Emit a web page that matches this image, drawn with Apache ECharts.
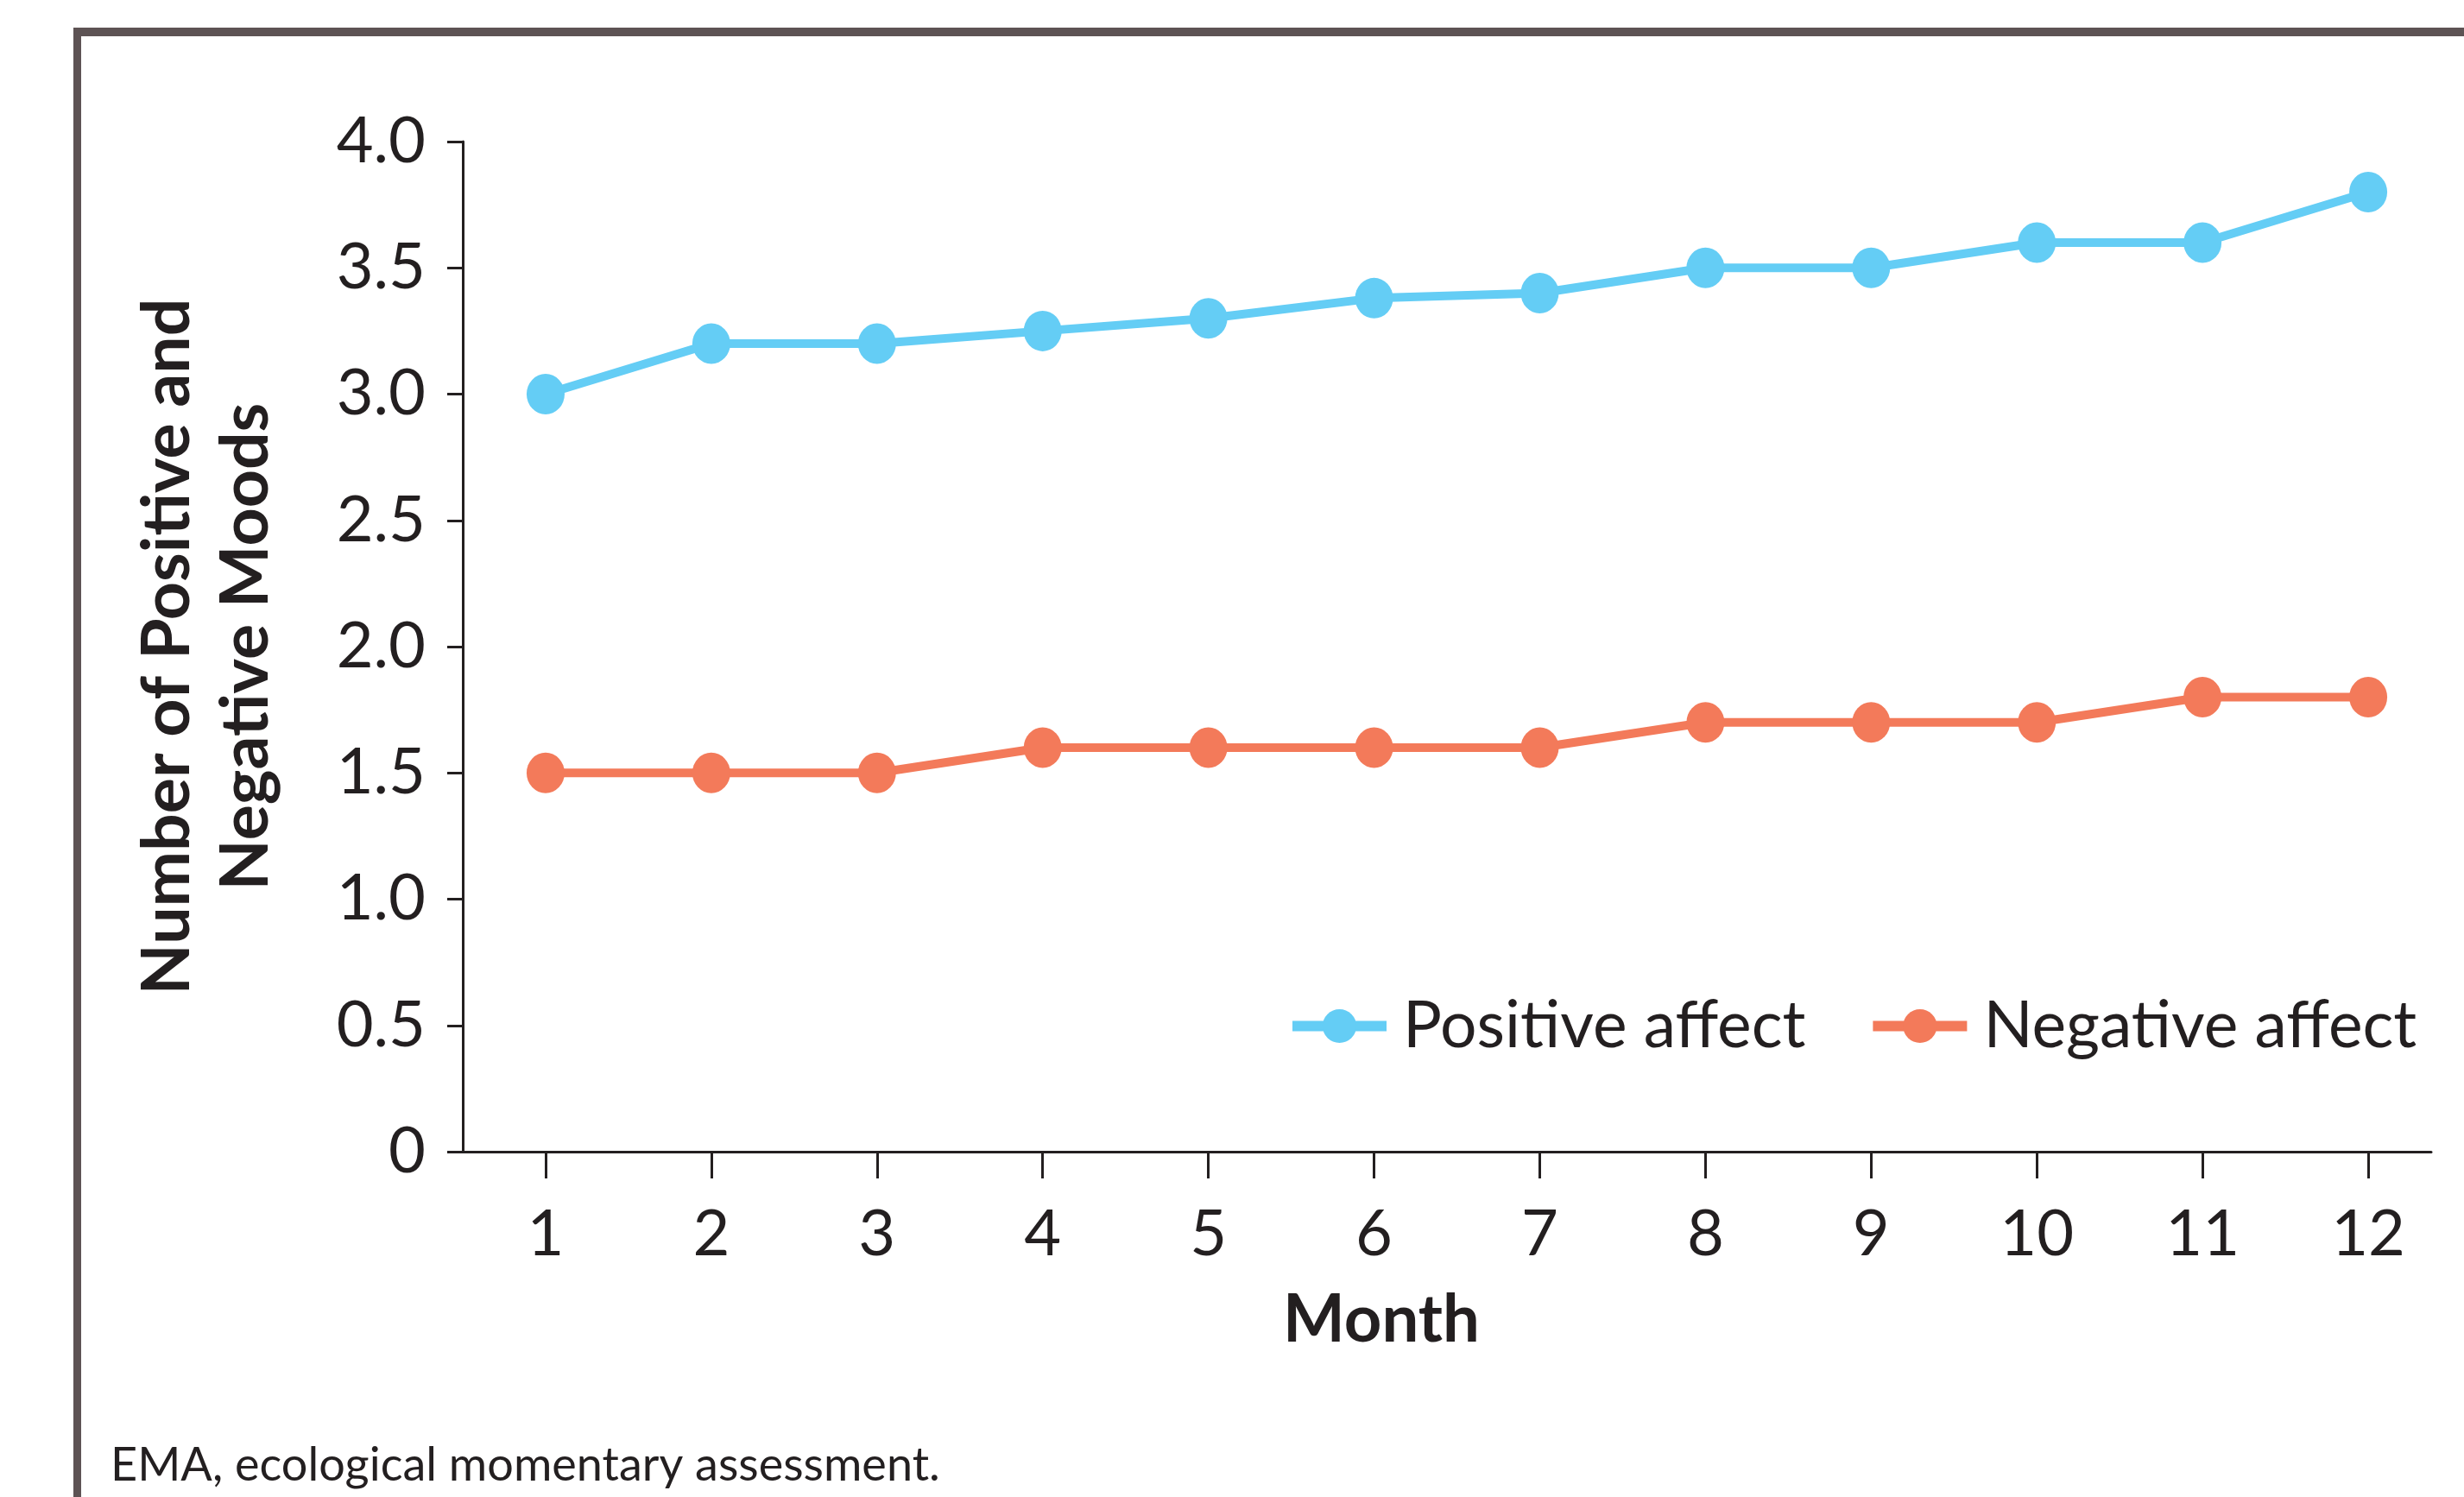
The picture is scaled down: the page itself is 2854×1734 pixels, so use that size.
<!DOCTYPE html>
<html>
<head>
<meta charset="utf-8">
<title>Positive and negative moods by month</title>
<script src="https://cdn.jsdelivr.net/npm/echarts@6/dist/echarts.min.js"></script>
<style>
  html, body { margin: 0; padding: 0; background: #ffffff; }
  #chart { width: 2854px; height: 1734px; }
</style>
</head>
<body>
<div id="chart"></div>
<script>
// Months of follow-up (x axis)
const months = [1, 2, 3, 4, 5, 6, 7, 8, 9, 10, 11, 12];
// Mean number of moods reported per month
const positiveAffect = [3.0, 3.2, 3.2, 3.25, 3.3, 3.38, 3.4, 3.5, 3.5, 3.6, 3.6, 3.8];
const negativeAffect = [1.5, 1.5, 1.5, 1.6, 1.6, 1.6, 1.6, 1.7, 1.7, 1.7, 1.8, 1.8];
// Y axis ticks
const yTicks = [0, 0.5, 1.0, 1.5, 2.0, 2.5, 3.0, 3.5, 4.0];
const seriesNames = ['Positive affect', 'Negative affect'];
const footnote = 'EMA, ecological momentary assessment.';

const ink = '#231f20';
const frame = '#5d5354';
const blue = '#64cdf5';
const salmon = '#f37a5a';
const font = 'Lato, "Open Sans", sans-serif';

const pairs = vals => months.map((m, i) => [m, vals[i]]);

const chart = echarts.init(document.getElementById('chart'), null, { renderer: 'canvas' });

chart.setOption({
  animation: false,
  backgroundColor: '#ffffff',
  textStyle: { fontFamily: font, color: ink },
  grid: { left: 536, right: 38, top: 164, bottom: 400, containLabel: false },
  legend: {
    data: seriesNames,
    left: 1486,
    top: 1146,
    itemWidth: 109,
    itemHeight: 49,
    itemGap: 72,
    lineStyle: { width: 12 },
    textStyle: { fontFamily: font, fontSize: 75, color: ink, padding: [0, 0, 0, 14] }
  },
  xAxis: {
    type: 'value',
    min: 0.5,
    max: 12.38,
    name: 'Month',
    nameLocation: 'middle',
    nameGap: 157,
    nameTextStyle: { fontFamily: font, fontSize: 76, fontWeight: 'bold', color: ink, padding: [0, 152, 0, 0] },
    splitLine: { show: false },
    axisLine: { show: true, onZero: false, lineStyle: { color: ink, width: 3 } },
    axisTick: { show: true, customValues: months, length: 31, lineStyle: { color: ink, width: 3 } },
    axisLabel: { customValues: months, margin: 59, fontSize: 74, color: ink, fontFamily: font }
  },
  yAxis: {
    type: 'value',
    min: 0,
    max: 4,
    interval: 0.5,
    name: 'Number of Positive and\nNegative Moods',
    nameLocation: 'middle',
    nameGap: 205,
    nameTextStyle: { fontFamily: font, fontSize: 77, fontWeight: 'bold', color: ink, lineHeight: 91 },
    splitLine: { show: false },
    axisLine: { show: true, lineStyle: { color: ink, width: 3 } },
    axisTick: { show: true, length: 18, lineStyle: { color: ink, width: 3 } },
    axisLabel: {
      margin: 43,
      fontSize: 74,
      color: ink,
      fontFamily: font,
      customValues: yTicks,
      formatter: v => (v === 0 ? '0' : v.toFixed(1))
    }
  },
  series: [
    {
      name: seriesNames[0],
      type: 'line',
      data: pairs(positiveAffect),
      symbol: 'circle',
      symbolSize: [44, 47],
      color: blue,
      lineStyle: { width: 10, color: blue },
      itemStyle: { color: blue }
    },
    {
      name: seriesNames[1],
      type: 'line',
      data: pairs(negativeAffect),
      symbol: 'circle',
      symbolSize: [44, 47],
      color: salmon,
      lineStyle: { width: 10, color: salmon },
      itemStyle: { color: salmon }
    }
  ],
  graphic: [
    // panel frame: top rule and left rule
    { type: 'rect', shape: { x: 85, y: 32, width: 2854 - 85, height: 10 }, style: { fill: frame }, silent: true },
    { type: 'rect', shape: { x: 85, y: 32, width: 9, height: 1734 - 32 }, style: { fill: frame }, silent: true },
    {
      type: 'text',
      x: 128,
      y: 1698,
      style: { text: footnote, fontFamily: font, fontSize: 54, fill: ink, verticalAlign: 'middle', align: 'left' },
      silent: true
    }
  ]
});
</script>
</body>
</html>
